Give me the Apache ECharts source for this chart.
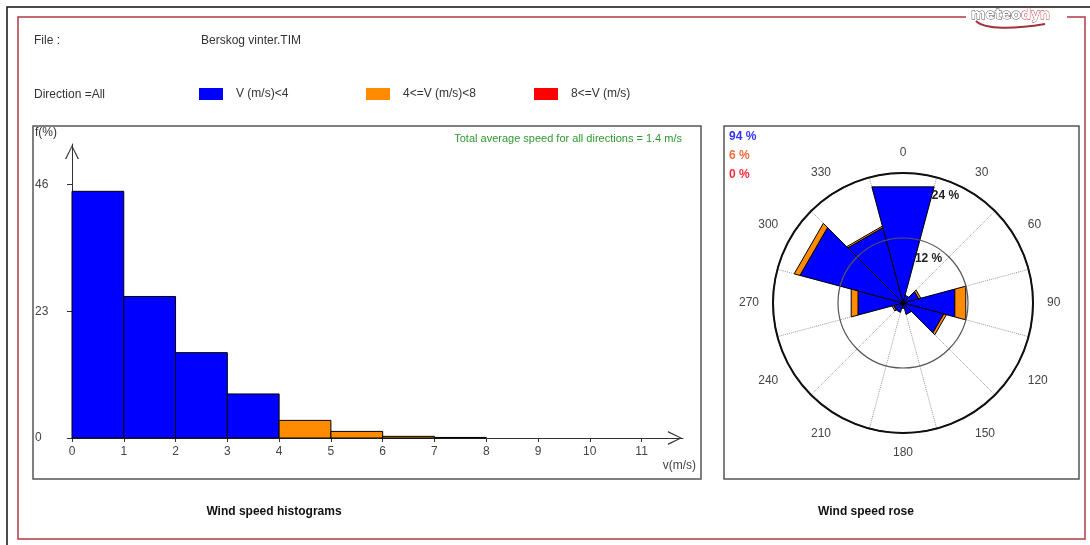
<!DOCTYPE html>
<html>
<head>
<meta charset="utf-8">
<title>Wind speed histograms / rose</title>
<script src="https://cdn.jsdelivr.net/npm/echarts@6/dist/echarts.min.js"></script>
<style>
  html, body { margin: 0; padding: 0; background: #fff; }
  #chart { width: 1090px; height: 545px; }
</style>
</head>
<body>
<div id="chart"></div>
<script>
// ---- data -------------------------------------------------------------
const fileName = 'Berskog vinter.TIM';
const directionLabel = 'All';
const classNames = ['V (m/s)<4', '4<=V (m/s)<8', '8<=V (m/s)'];
const classColors = ['#0000ff', '#ff8c00', '#ff0000'];

// speed histogram: lower edges of 1 m/s bins and frequency (%) per class
const speedBinLow = [0, 1, 2, 3, 4, 5, 6, 7];
const histLow  = [44.8, 25.7, 15.5, 8.0, 0, 0, 0, 0];
const histMid  = [0, 0, 0, 0, 3.2, 1.2, 0.3, 0.1];
const histHigh = [0, 0, 0, 0, 0, 0, 0, 0];
const speedTicks = [0, 1, 2, 3, 4, 5, 6, 7, 8, 9, 10, 11];
const freqTicks = [0, 23, 46];
const meanSpeed = 1.4;

// wind rose: 12 sectors of 30 degrees, frequency (%) per class
const windDirs = ['0', '30', '60', '90', '120', '150', '180', '210', '240', '270', '300', '330'];
const roseLow  = [22.2, 1.5, 3.0, 9.9, 7.8, 2.2, 1.0, 1.8, 1.8, 8.6, 19.7, 14.4];
const roseMid  = [0, 0, 0.4, 2.1, 0.5, 0, 0, 0, 0.3, 1.3, 1.1, 0.3];
const roseHigh = [0, 0, 0, 0, 0, 0, 0, 0, 0, 0, 0, 0];
const roseRings = [12, 24];

// ---- layout -----------------------------------------------------------
const FONT = '"Liberation Sans", Arial, sans-serif';
const roseCx = 903, roseCy = 303, roseR = 130, roseMax = 24;
const sectorHalf = 15 * Math.PI / 180;
const histLeft = 72, histTop = 144, histWidth = 611, histHeight = 294;
const xMax = 11.8;
const yMax = 46 * histHeight / 253.3;

const sum = a => a.reduce((s, v) => s + v, 0);

function histData(vals) {
  const out = [];
  vals.forEach((v, i) => { if (v > 0) out.push([speedBinLow[i], speedBinLow[i] + 1, v]); });
  return out;
}

function renderBin(params, api) {
  const lo = api.value(0), hi = api.value(1), v = api.value(2);
  const p0 = api.coord([lo, v]);
  const p1 = api.coord([hi, 0]);
  return {
    type: 'rect',
    shape: { x: p0[0], y: p0[1], width: p1[0] - p0[0], height: p1[1] - p0[1] },
    style: { fill: api.visual('color'), stroke: '#000', lineWidth: 1 }
  };
}

// stacked rose sectors: [directionIndex, from, to]
const roseClasses = [roseLow, roseMid, roseHigh];
function roseData(k) {
  const out = [];
  windDirs.forEach((d, i) => {
    let base = 0;
    for (let j = 0; j < k; j++) base += roseClasses[j][i];
    const v = roseClasses[k][i];
    if (v > 0) out.push([i, base, base + v]);
  });
  return out;
}

// sector drawn as a polygon with a straight outer edge, edges at +-15 degrees
function renderSector(params, api) {
  const cs = params.coordSys;
  const i = api.value(0), r0 = api.value(1), r1 = api.value(2);
  const rot = (p, a) => {
    const vx = p[0] - cs.cx, vy = p[1] - cs.cy;
    return [cs.cx + vx * Math.cos(a) - vy * Math.sin(a), cs.cy + vx * Math.sin(a) + vy * Math.cos(a)];
  };
  const outer = api.coord([r1, i]);
  const pts = [rot(outer, -sectorHalf), rot(outer, sectorHalf)];
  if (r0 > 0) {
    const inner = api.coord([r0, i]);
    pts.push(rot(inner, sectorHalf), rot(inner, -sectorHalf));
  } else {
    pts.push([cs.cx, cs.cy]);
  }
  return {
    type: 'polygon',
    shape: { points: pts },
    style: { fill: api.visual('color'), stroke: '#000', lineWidth: 1, lineJoin: 'round' }
  };
}

// open chevron used as axis arrow head (points up before rotation)
const chevron = 'path://M5,0 L10,10 L9,10 L5,1.6 L1,10 L0,10 Z';

const histSeries = [histLow, histMid, histHigh].map((vals, k) => ({
  name: classNames[k],
  type: 'custom',
  xAxisIndex: 0, yAxisIndex: 0,
  renderItem: renderBin,
  itemStyle: { color: classColors[k] },
  encode: { x: [0, 1], y: 2 },
  data: histData(vals),
  z: 2
}));

const roseSeries = roseClasses.map((vals, k) => ({
  name: classNames[k],
  type: 'custom',
  coordinateSystem: 'polar',
  polarIndex: 0,
  renderItem: renderSector,
  itemStyle: { color: classColors[k] },
  encode: { angle: 0, radius: [1, 2] },
  data: roseData(k),
  z: 2
}));

function txt(x, y, text, extra) {
  return {
    type: 'text', x, y, silent: true,
    style: Object.assign({ text, fill: '#333', font: '12px ' + FONT, verticalAlign: 'middle', align: 'left' }, extra || {})
  };
}

// ring labels sit just inside each circle, along the 15 degree spoke
const ringLabels = roseRings.map(v => {
  const r = v / roseMax * roseR - 19;
  return txt(roseCx + r * Math.sin(sectorHalf), roseCy - r * Math.cos(sectorHalf), v + ' %',
    { font: 'bold 12px ' + FONT, fill: '#222' });
});

const classTotals = roseClasses.map(a => Math.round(sum(a)));
const totalColors = ['#3333ff', '#f26b3a', '#ff2a3a'];
const totalLabels = classTotals.map((t, k) =>
  txt(729, 137 + 19 * k, t + ' %', { font: 'bold 12px ' + FONT, fill: totalColors[k] }));

const frameRed = '#b23a48';

const graphics = [
  // outer frames
  { type: 'polyline', silent: true, shape: { points: [[1090, 7], [7, 7], [7, 545]] },
    style: { stroke: '#111', lineWidth: 1.5, fill: null } },
  { type: 'polyline', silent: true,
    shape: { points: [[966, 17], [18, 17], [18, 539], [1085, 539], [1085, 17], [1067, 17]] },
    style: { stroke: frameRed, lineWidth: 1.5, fill: null } },
  // logo
  { type: 'text', x: 971, y: 15, silent: true,
    style: { text: '{a|meteo}{b|dyn}', verticalAlign: 'middle',
      rich: {
        a: { font: 'bold 14px "DejaVu Sans", sans-serif', fill: '#fff', stroke: '#444', lineWidth: 0.9 },
        b: { font: 'bold 14px "DejaVu Sans", sans-serif', fill: '#fff', stroke: '#c0303a', lineWidth: 0.9 }
      } } },
  { type: 'bezierCurve', silent: true,
    shape: { x1: 976, y1: 21, cpx1: 985, cpy1: 30, cpx2: 1015, cpy2: 29, x2: 1045, y2: 24 },
    style: { stroke: '#a3303a', lineWidth: 2, fill: null } },
  // panels
  { type: 'rect', silent: true, shape: { x: 33, y: 126, width: 668, height: 353 },
    style: { stroke: '#555', lineWidth: 1.5, fill: null } },
  { type: 'rect', silent: true, shape: { x: 724, y: 126, width: 355, height: 353 },
    style: { stroke: '#555', lineWidth: 1.5, fill: null } },
  // header
  txt(34, 41, 'File :'),
  txt(201, 41, fileName),
  txt(34, 95, 'Direction =' + directionLabel),
  // histogram texts
  txt(35, 133, 'f(%)'),
  txt(696, 466, 'v(m/s)', { align: 'right', fill: '#444' }),
  txt(682, 139, 'Total average speed for all directions = ' + meanSpeed + ' m/s',
    { align: 'right', fill: '#2e9a2e', font: '11px ' + FONT }),
  // captions
  txt(274, 512, 'Wind speed histograms', { align: 'center', font: 'bold 12px ' + FONT, fill: '#111' }),
  txt(866, 512, 'Wind speed rose', { align: 'center', font: 'bold 12px ' + FONT, fill: '#111' })
].concat(ringLabels, totalLabels);

const legendX = [199, 366, 534];
const legends = classNames.map((n, k) => ({
  data: [n],
  left: legendX[k], top: 88,
  padding: 0,
  itemWidth: 24, itemHeight: 12,
  icon: 'rect',
  itemStyle: { borderWidth: 0 },
  textStyle: { color: '#333', fontSize: 12, fontFamily: FONT, padding: [0, 0, 0, 8] }
}));

const option = {
  backgroundColor: '#fff',
  animation: false,
  textStyle: { fontFamily: FONT },
  legend: legends,
  grid: { left: histLeft, top: histTop, width: histWidth, height: histHeight, containLabel: false },
  xAxis: {
    type: 'value', min: 0, max: xMax,
    axisLine: { show: true, onZero: false, symbol: ['none', chevron], symbolSize: [14, 17], symbolOffset: [0, -8],
      lineStyle: { color: '#333', width: 1 } },
    axisTick: { show: true, customValues: speedTicks, length: 4, lineStyle: { color: '#333' } },
    axisLabel: { customValues: speedTicks, color: '#444', fontSize: 12, margin: 8 },
    splitLine: { show: false }
  },
  yAxis: {
    type: 'value', min: 0, max: yMax,
    axisLine: { show: true, onZero: false, symbol: ['none', chevron], symbolSize: [14, 17], symbolOffset: [0, -8],
      lineStyle: { color: '#333', width: 1 } },
    axisTick: { show: true, customValues: freqTicks, length: 5, lineStyle: { color: '#333' } },
    axisLabel: { customValues: freqTicks, color: '#444', fontSize: 12, align: 'left', margin: 37 },
    splitLine: { show: false }
  },
  polar: { center: [roseCx, roseCy], radius: [0, roseR] },
  angleAxis: {
    type: 'category', data: windDirs,
    startAngle: 105, clockwise: true, boundaryGap: true,
    axisLine: { show: true, lineStyle: { color: '#111', width: 2 } },
    axisTick: { show: false },
    axisLabel: { margin: 14, color: '#444', fontSize: 12 },
    splitLine: { show: true, lineStyle: { color: '#9a9a9a', type: 'dotted', width: 1 } },
    z: 1
  },
  radiusAxis: {
    min: 0, max: roseMax, interval: 12,
    axisLine: { show: false }, axisTick: { show: false }, axisLabel: { show: false },
    splitLine: { show: true, lineStyle: { color: ['#555', '#555', '#111'], width: 1.2 } },
    z: 5
  },
  graphic: graphics,
  series: histSeries.concat(roseSeries)
};

const chart = echarts.init(document.getElementById('chart'), null, { renderer: 'canvas' });
chart.setOption(option);
</script>
</body>
</html>
